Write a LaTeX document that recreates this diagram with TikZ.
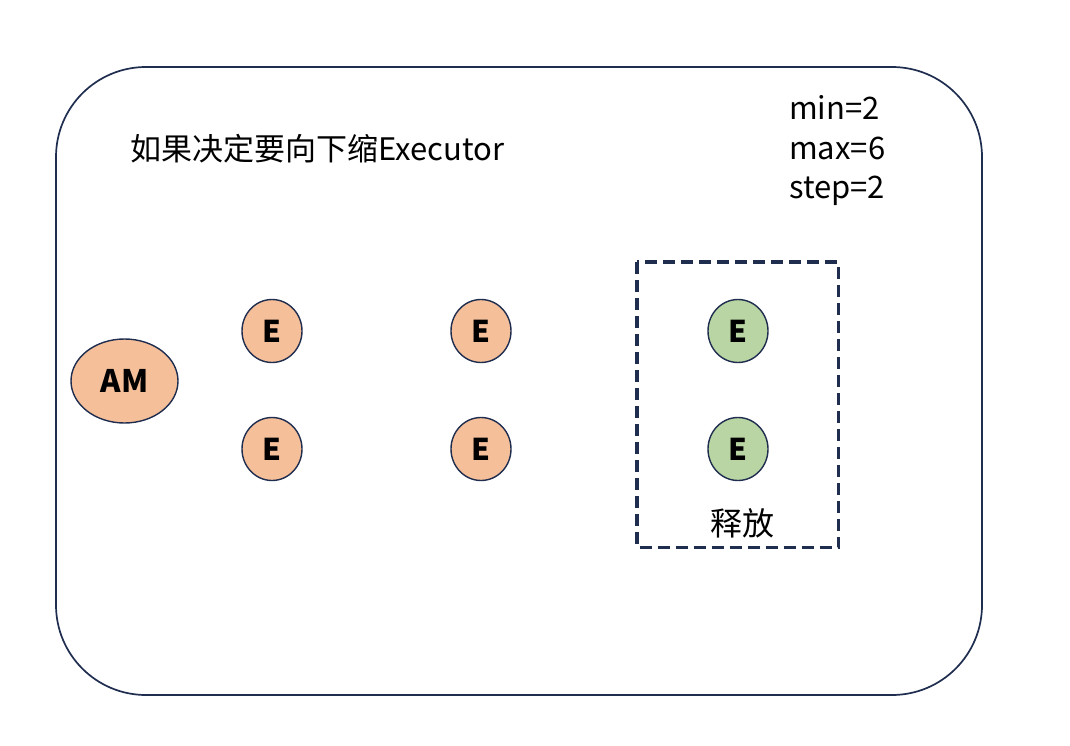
\documentclass[tikz,border=0pt]{standalone}
\usepackage{fontspec}
\setmainfont{Noto Sans CJK SC}
\newfontfamily\cjk{Noto Sans CJK SC}
\usetikzlibrary{shapes.geometric}
\definecolor{navy}{HTML}{1F2D4F}
\definecolor{orangefill}{HTML}{F5BF9A}
\definecolor{greenfill}{HTML}{B8D5A3}
\tikzset{
  enode/.style={ellipse, draw=navy, line width=1.4pt, minimum width=60pt, minimum height=63pt, inner sep=0pt, font=\cjk\bfseries\fontsize{30}{32}\selectfont},
  orangee/.style={enode, fill=orangefill},
  greene/.style={enode, fill=greenfill},
  lbl/.style={font=\cjk\fontsize{31}{36}\selectfont, inner sep=0pt, text height=0.8em, text depth=0.2em}
}
\begin{document}
\begin{tikzpicture}[x=1pt,y=-1pt]
\useasboundingbox (0,0) rectangle (1070,746);
\fill[white] (0,0) rectangle (1070,746);
\draw[navy, line width=1.7pt, rounded corners=90pt] (56,67) rectangle (982,695);
\node[lbl, anchor=west] (title) at (130,158) {如果决定要向下缩Executor};
\node[lbl, anchor=west] (min) at (789,117) {min=2};
\node[lbl, anchor=west] (max) at (789,157) {max=6};
\node[lbl, anchor=west] (step) at (789,195) {step=2};
\node[ellipse, draw=navy, line width=1.4pt, fill=orangefill, minimum width=107pt, minimum height=84pt, inner sep=0pt, font=\cjk\bfseries\fontsize{31}{34}\selectfont] (am) at (124.5,381) {AM};
\node[orangee] (e1) at (272,331) {E};
\node[orangee] (e2) at (272,449) {E};
\node[orangee] (e3) at (481,331) {E};
\node[orangee] (e4) at (481,449) {E};
\node[greene] (e5) at (738,331) {E};
\node[greene] (e6) at (738,449) {E};
\draw[navy, line width=3.5pt, dash pattern=on 12pt off 6pt] (637,262) rectangle (838.5,547.5);
\node[lbl, font=\cjk\fontsize{32}{36}\selectfont] (rel) at (742,532) {释放};
\end{tikzpicture}
\end{document}
